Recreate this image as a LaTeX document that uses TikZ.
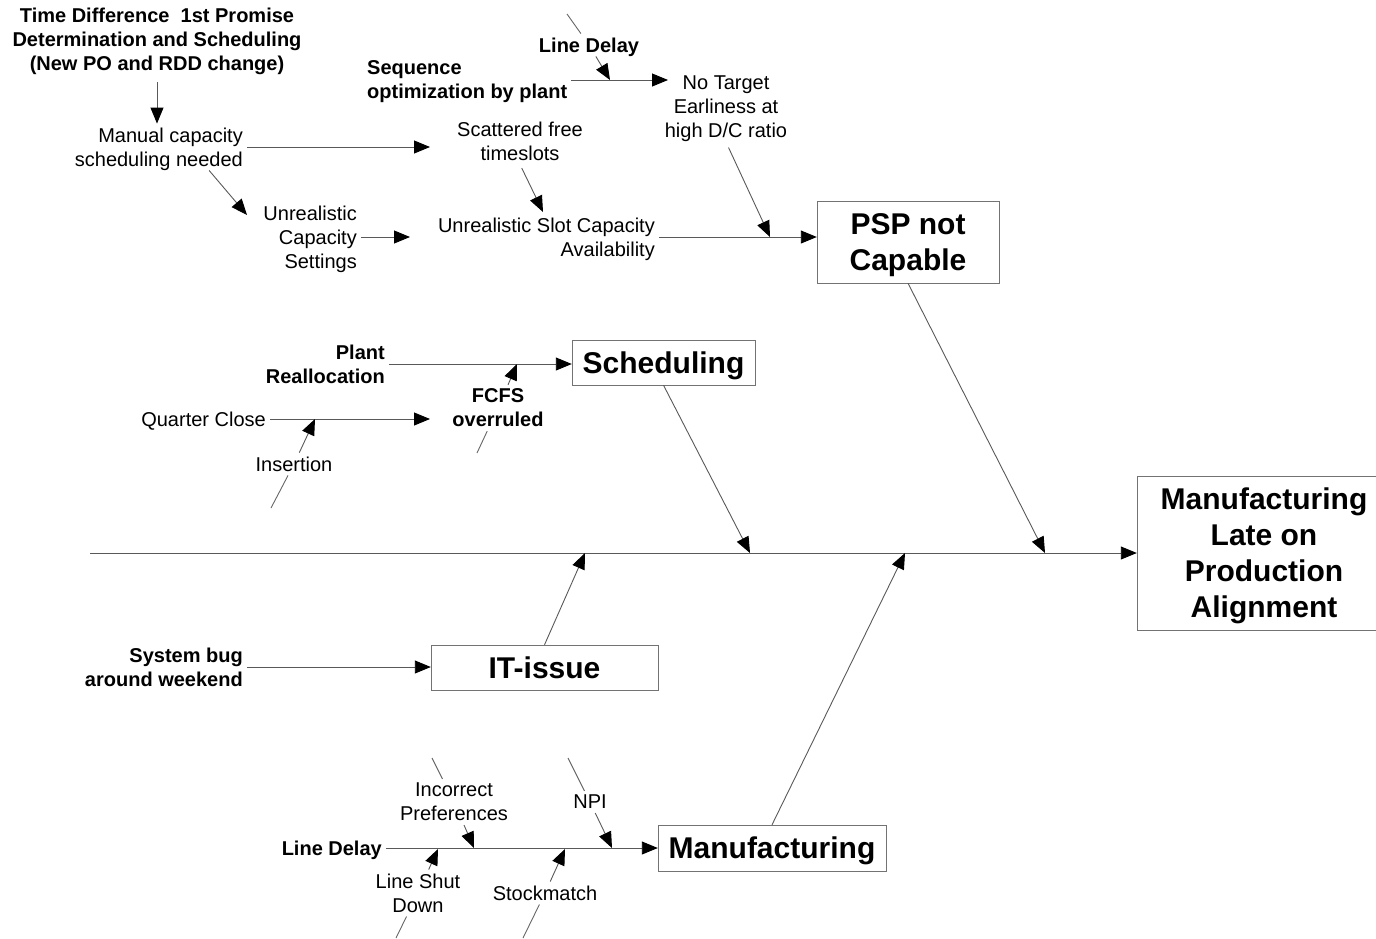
\documentclass[tikz,border=0pt]{standalone}
\usepackage{fontspec}
\setmainfont{Liberation Sans}
\usetikzlibrary{arrows.meta}

\tikzset{
	cause/.style = {font = \fontsize{20}{24}\selectfont, align = center, inner sep = 4pt, text depth = 0pt},
	boldcause/.style = {cause, font = \fontsize{20}{24}\selectfont\bfseries},
	effect/.style = {draw = black!55, font = \fontsize{30}{36}\selectfont\bfseries, align = center, inner sep = 2pt, text depth = 0pt},
	bone/.style = {draw = black!65, line width = 0.9pt, -{Triangle[length = 16pt, width = 13pt, color = black]}},
	stub/.style = {draw = black!60, line width = 0.9pt}
}

\begin{document}
\begin{tikzpicture}[x = 1pt, y = -1pt]
	\useasboundingbox (0,0) rectangle (1376,938);
	
	% effect boxes
	\node[effect, minimum width = 254pt, minimum height = 154pt] (late) at (1264,553) {Manufacturing\\Late on\\Production\\Alignment};
	\node[effect, minimum width = 182pt, minimum height = 82pt] (psp) at (908,242) {PSP not\\Capable};
	\node[effect, minimum width = 183pt, minimum height = 45pt] (sched) at (663.5,362.5) {Scheduling};
	\node[effect, minimum width = 227pt, minimum height = 45pt] (it) at (544.5,667.5) {IT-issue};
	\node[effect, minimum width = 228pt, minimum height = 46pt] (mfg) at (772,848) {Manufacturing};
	
	% PSP branch
	\node[boldcause] (timediff) at (157,39) {Time Difference\ \ 1st Promise\\Determination and Scheduling\\(New PO and RDD change)};
	\node[cause, align = right, anchor = east] (manual) at (247,147) {Manual capacity\\scheduling needed};
	\node[cause, align = right, anchor = east] (ucs) at (361,237) {Unrealistic\\Capacity\\Settings};
	\node[cause] (scattered) at (520,141) {Scattered free\\timeslots};
	\node[cause, align = right, anchor = east] (usca) at (659,237) {Unrealistic Slot Capacity\\Availability};
	\node[boldcause, align = left, anchor = west] (seq) at (363,80) {Sequence\\optimization by plant};
	\node[boldcause] (linedelay) at (589,45) {Line Delay};
	\node[cause] (notarget) at (726,107) {No Target\\Earliness at\\high D/C ratio};
	
	% Scheduling branch
	\node[boldcause, align = right, anchor = east] (plant) at (389,364) {Plant\\Reallocation};
	\node[cause, anchor = east] (qclose) at (270,419) {Quarter Close};
	\node[boldcause] (fcfs) at (498,408) {FCFS\\overruled};
	\node[cause] (insertion) at (294,464) {Insertion};
	
	% IT branch
	\node[boldcause, align = right, anchor = east] (sysbug) at (247,667) {System bug\\around weekend};
	
	% Manufacturing branch
	\node[boldcause, anchor = east] (mfgdelay) at (386,848) {Line Delay};
	\node[cause] (incorrect) at (454,802) {Incorrect\\Preferences};
	\node[cause] (npi) at (590,802) {NPI};
	\node[cause] (shutdown) at (418,893) {Line Shut\\Down};
	\node[cause] (stock) at (545,893) {Stockmatch};
	
	% free ends
	\coordinate (tail) at (90,553);
	\coordinate (sSched) at (750,553);
	\coordinate (sPsp) at (1045,553);
	\coordinate (sIt) at (585,553);
	\coordinate (sMfg) at (905,553);
	\coordinate (toScattered) at (430,147);
	\coordinate (toUcs) at (247,215);
	\coordinate (toUsca) at (410,237);
	\coordinate (onUsca) at (543,212);
	\coordinate (onPsp) at (770,237);
	\coordinate (toNotarget) at (668,80);
	\coordinate (ldTop) at (567,14);
	\coordinate (onSeq) at (610,80);
	\coordinate (toFcfs) at (430,419);
	\coordinate (onPlant) at (517,364);
	\coordinate (fcfsEnd) at (477,453);
	\coordinate (onQclose) at (315,419);
	\coordinate (insEnd) at (271,508);
	\coordinate (incTop) at (432,758);
	\coordinate (npiTop) at (568,758);
	\coordinate (shutEnd) at (396,938);
	\coordinate (stockEnd) at (523,938);
	\coordinate (onMfgA) at (474,848);
	\coordinate (onMfgB) at (612,848);
	\coordinate (onMfgC) at (438,849);
	\coordinate (onMfgD) at (565,849);
	
	% spine and main bones
	\draw[bone] (tail) -- (late.west);
	\draw[bone] (sched.south) -- (sSched);
	\draw[bone] (psp.south) -- (sPsp);
	\draw[bone] (it.north) -- (sIt);
	\draw[bone] (mfg.north) -- (sMfg);
	
	% PSP branch
	\draw[bone, shorten <= 8pt] (timediff.south) -- (timediff.south |- manual.north);
	\draw[bone] (manual.east) -- (toScattered);
	\draw[bone] (manual.-25) -- (toUcs);
	\draw[bone] (ucs.east) -- (toUsca);
	\draw[bone, shorten <= 4pt] (scattered.south) -- (onUsca);
	\draw[bone] (usca.east) -- (usca.east -| psp.west);
	\draw[bone, shorten <= 6pt] (notarget.south) -- (onPsp);
	\draw[bone] (seq.east) -- (toNotarget);
	\draw[stub] (ldTop) -- (linedelay);
	\draw[bone] (linedelay) -- (onSeq);
	
	% Scheduling branch
	\draw[bone] (plant.east) -- (plant.east -| sched.west);
	\draw[bone] (qclose.east) -- (toFcfs);
	\draw[stub] (fcfsEnd) -- (fcfs);
	\draw[bone] (fcfs) -- (onPlant);
	\draw[stub] (insEnd) -- (insertion);
	\draw[bone] (insertion) -- (onQclose);
	
	% IT branch
	\draw[bone] (sysbug.east) -- (sysbug.east -| it.west);
	
	% Manufacturing branch
	\draw[bone] (mfgdelay.east) -- (mfgdelay.east -| mfg.west);
	\draw[stub] (incTop) -- (incorrect);
	\draw[bone] (incorrect) -- (onMfgA);
	\draw[stub] (npiTop) -- (npi);
	\draw[bone] (npi) -- (onMfgB);
	\draw[stub] (shutEnd) -- (shutdown);
	\draw[bone] (shutdown) -- (onMfgC);
	\draw[stub] (stockEnd) -- (stock);
	\draw[bone] (stock) -- (onMfgD);
\end{tikzpicture}
\end{document}
